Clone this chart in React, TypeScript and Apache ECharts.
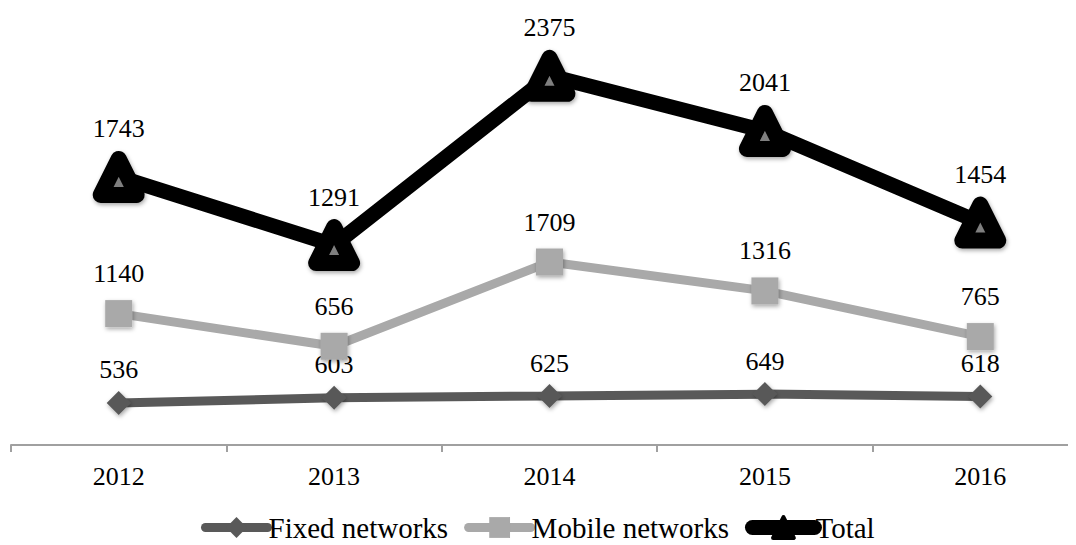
import React, { useEffect, useRef } from "react";
import * as echarts from "echarts";

const years = ["2012", "2013", "2014", "2015", "2016"];
const fixedNetworks = [536, 603, 625, 649, 618];
const mobileNetworks = [1140, 656, 1709, 1316, 765];
const totalValues = [1743, 1291, 2375, 2041, 1454];

const FONT = "'Liberation Serif', 'Times New Roman', serif";

export default function App() {
  const ref = useRef<HTMLDivElement>(null);
  useEffect(() => {
    if (!ref.current) return;
    const chart = echarts.init(ref.current, undefined, { renderer: "svg" });
    const shadow = {
      shadowBlur: 4,
      shadowColor: "rgba(0,0,0,0.35)",
      shadowOffsetX: 1,
      shadowOffsetY: 2,
    };
    const labelBase = {
      show: true,
      position: "inside",
      color: "#000",
      fontFamily: FONT,
      fontSize: 26,
    };
    chart.setOption({
      animation: false,
      grid: { left: 3, right: 0, top: 45, bottom: 100 },
      legend: {
        top: 500,
        left: 188,
        itemWidth: 62,
        itemHeight: 26,
        itemGap: 16,
        textStyle: { fontFamily: FONT, fontSize: 29, color: "#000", padding: [0, 0, 0, -4] },
        data: [
          { name: "Fixed networks", lineStyle: { width: 9, color: "#595959", cap: "round" } },
          { name: "Mobile networks", lineStyle: { width: 9, color: "#a9a9a9", cap: "round" } },
          {
            name: "Total",
            lineStyle: { width: 15, color: "#000", cap: "round" },
            itemStyle: { color: "#000", borderColor: "#000", borderWidth: 4 },
          },
        ],
      },
      xAxis: {
        type: "category",
        data: years,
        boundaryGap: true,
        axisLine: { lineStyle: { color: "#a0a0a0", width: 2 } },
        axisTick: { show: true, length: 7, lineStyle: { color: "#a0a0a0", width: 2 } },
        axisLabel: { color: "#000", fontFamily: FONT, fontSize: 26, margin: 18 },
      },
      yAxis: {
        type: "value",
        min: 0,
        max: 5000,
        show: false,
        splitLine: { show: false },
      },
      series: [
        {
          name: "Fixed networks",
          type: "line",
          stack: "all",
          data: fixedNetworks,
          symbol: "diamond",
          symbolSize: 24,
          color: "#595959",
          lineStyle: { color: "#595959", width: 9 },
          itemStyle: { color: "#595959", ...shadow },
          label: { ...labelBase, offset: [0, -33] },
          z: 3,
        },
        {
          name: "Mobile networks",
          type: "line",
          stack: "all",
          data: mobileNetworks,
          symbol: "rect",
          symbolSize: 27,
          color: "#a9a9a9",
          lineStyle: { color: "#a9a9a9", width: 9 },
          itemStyle: { color: "#a9a9a9", ...shadow },
          label: { ...labelBase, offset: [0, -40] },
          z: 4,
        },
        {
          name: "Total",
          type: "line",
          stack: "all",
          data: totalValues,
          symbol: "triangle",
          symbolSize: 36,
          color: "#000",
          lineStyle: { color: "#000", width: 15 },
          itemStyle: {
            color: "#7f7f7f",
            borderColor: "#000",
            borderWidth: 16,
            borderJoin: "round",
            ...shadow,
          },
          label: { ...labelBase, offset: [0, -48] },
          z: 5,
        },
      ],
    });
    return () => chart.dispose();
  }, []);
  return (
    <div style={{ width: 1068, height: 537, overflow: "hidden" }}>
      <div ref={ref} style={{ width: 1080, height: 537 }} />
    </div>
  );
}
